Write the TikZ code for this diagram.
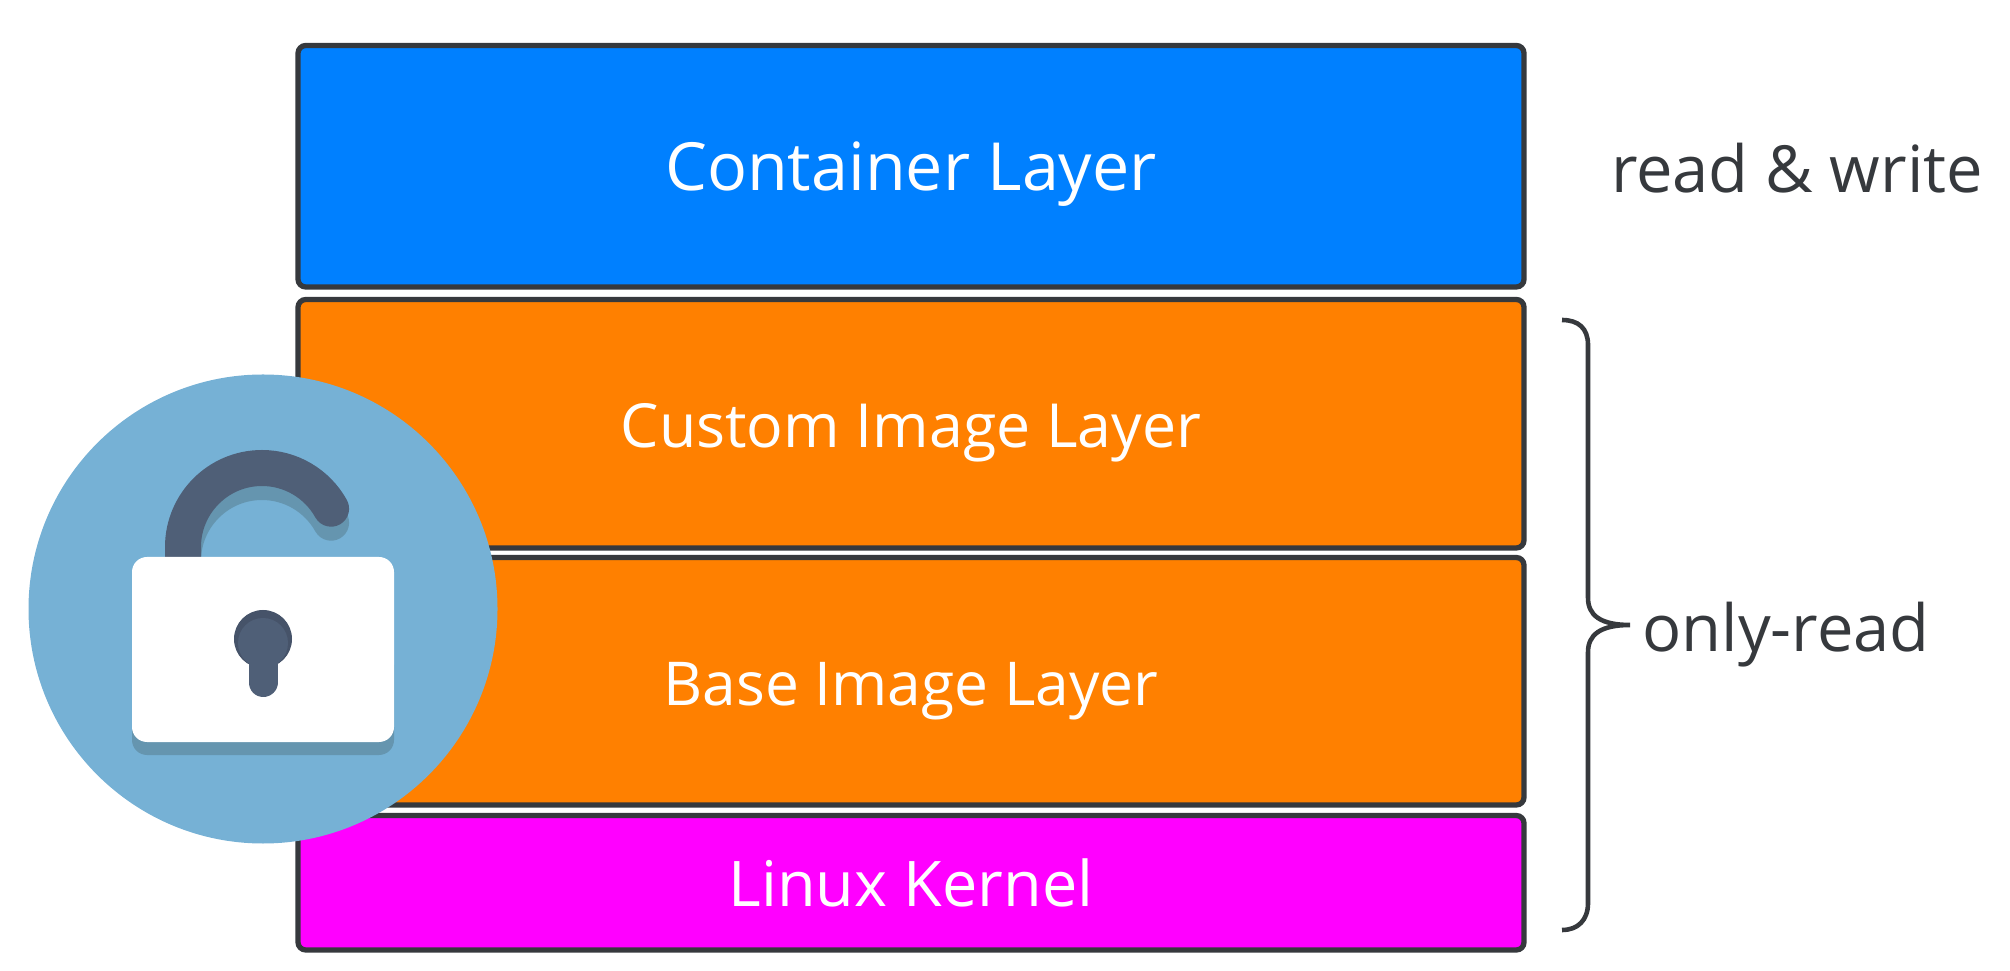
\documentclass[tikz,border=0pt]{standalone}
\usepackage{fontspec}
\setmainfont{Open Sans}
\definecolor{edgegray}{HTML}{36393D}
\definecolor{layerblue}{HTML}{0080FF}
\definecolor{layerorange}{HTML}{FF8000}
\definecolor{layerpink}{HTML}{FF00FF}
\definecolor{lockblue}{HTML}{76B1D5}
\definecolor{lockshade}{HTML}{6595AF}
\definecolor{lockdark}{HTML}{4F5F77}
\definecolor{lockdarker}{HTML}{465369}
\tikzset{
    layer/.style={draw=edgegray,line width=1.5pt,rounded corners=2.2pt,text=white,
        minimum width=12.26cm,inner sep=0pt,text height=0.55cm,text depth=0.07cm},
    side/.style={text=edgegray,inner sep=0pt,anchor=base}
}

\begin{document}
\begin{tikzpicture}
    \useasboundingbox(0,0)rectangle(20.1,9.7);
    \node[layer,fill=layerblue,minimum height=2.415cm,font=\fontsize{18.9}{22}\selectfont](container)at(9.11,8.0375){Container Layer};
    \node[layer,fill=layerorange,minimum height=2.485cm,font=\fontsize{17.3}{20}\selectfont](custom)at(9.11,5.4625){Custom Image Layer};
    \node[layer,fill=layerorange,minimum height=2.475cm,font=\fontsize{17.2}{20}\selectfont](base)at(9.11,2.8875){Base Image Layer};
    \node[layer,fill=layerpink,minimum height=1.345cm,font=\fontsize{17.9}{20}\selectfont](kernel)at(9.11,0.8725){Linux Kernel};

    \node[side,font=\fontsize{18.5}{22}\selectfont](rw)at(17.97,7.77){read \& write};
    \node[side,font=\fontsize{18.5}{22}\selectfont](ro)at(17.86,3.185){only-read};
    % brace
    \draw[edgegray,line width=1.3pt](15.62,6.5)..controls(15.78,6.5)and(15.88,6.42)..(15.88,6.25)
        --(15.88,3.72)..controls(15.88,3.55)and(16.0,3.45)..(16.3,3.45)
        ..controls(16.0,3.45)and(15.88,3.35)..(15.88,3.18)
        --(15.88,0.67)..controls(15.88,0.5)and(15.78,0.4)..(15.62,0.4);

    % lock
    \fill[lockblue](2.63,3.61)circle(2.345);
    \draw[lockshade,line width=0.36cm,line cap=round](1.83,4.09)arc(180:29:0.79);
    \draw[lockdark,line width=0.36cm,line cap=round](1.83,4.1)--(1.83,4.23)arc(180:29:0.79);
    \fill[lockshade,rounded corners=0.15cm](1.32,2.15)rectangle(3.94,3.2);
    \fill[white,rounded corners=0.15cm](1.32,2.28)rectangle(3.94,4.13);
    \fill[lockdarker](2.63,3.31)circle(0.29);
    \fill[lockdark](2.63,3.27)circle(0.25);
    \draw[lockdark,line width=0.29cm,line cap=round](2.63,3.2)--(2.63,2.875);
\end{tikzpicture}
\end{document}
